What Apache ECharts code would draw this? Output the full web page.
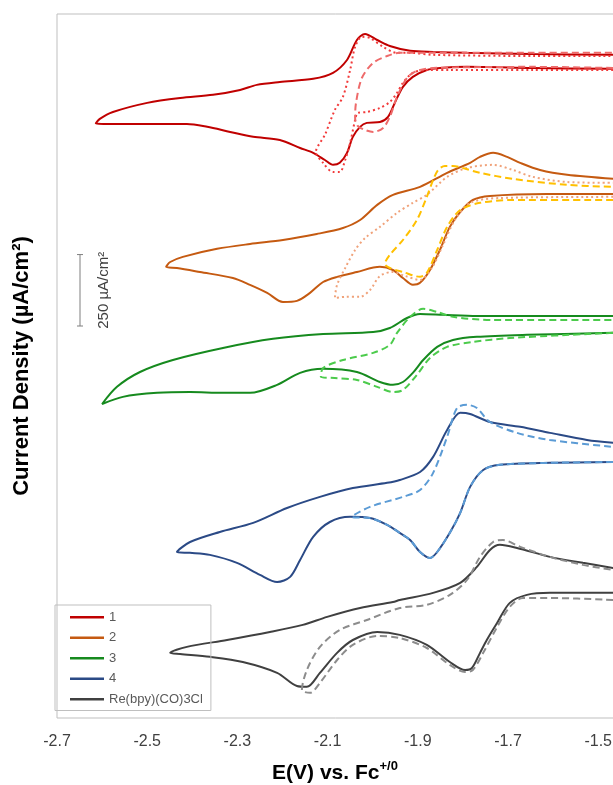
<!DOCTYPE html>
<html>
<head>
<meta charset="utf-8">
<title>CV comparison</title>
<script src="https://cdn.jsdelivr.net/npm/echarts@6/dist/echarts.min.js"></script>
<style>
  html, body { margin: 0; padding: 0; background: #fff; }
  #chart { width: 613px; height: 785px; }
</style>
</head>
<body>
<div id="chart"></div>
<script>
// potentials (V vs Fc+/0) and offset current densities (uA/cm2)
var legendNames = ['1', '2', '3', '4', 'Re(bpy)(CO)3Cl'];

var cv1 = [[-1.467,2272],[-1.645,2275],[-1.791,2279],[-1.851,2275],[-1.880,2268],[-1.911,2244],[-1.933,2209],[-1.951,2153],[-1.966,2104],[-1.984,2086],[-2.013,2083],[-2.028,2069],[-2.044,2034],[-2.057,1978],[-2.073,1943],[-2.088,1936],[-2.106,1953],[-2.132,1978],[-2.161,1995],[-2.206,2023],[-2.265,2034],[-2.316,2051],[-2.367,2069],[-2.412,2079],[-2.500,2079],[-2.582,2079],[-2.614,2081],[-2.605,2097],[-2.576,2121],[-2.500,2153],[-2.427,2170],[-2.354,2181],[-2.294,2198],[-2.257,2216],[-2.206,2226],[-2.132,2237],[-2.088,2258],[-2.057,2303],[-2.035,2373],[-2.017,2394],[-1.990,2373],[-1.962,2352],[-1.917,2335],[-1.866,2331],[-1.791,2328],[-1.645,2324],[-1.467,2321]];
var cv1Dotted = [[-1.467,2268],[-1.645,2268],[-1.829,2268],[-1.880,2268],[-1.911,2258],[-1.933,2223],[-1.946,2188],[-1.962,2156],[-1.984,2135],[-2.013,2121],[-2.033,2118],[-2.039,2093],[-2.050,2013],[-2.061,1953],[-2.073,1911],[-2.088,1911],[-2.110,1943],[-2.126,1981],[-2.106,2041],[-2.084,2128],[-2.066,2174],[-2.050,2268],[-2.039,2349],[-2.024,2384],[-2.006,2380],[-1.977,2349],[-1.946,2328],[-1.917,2328],[-1.866,2321],[-1.645,2317],[-1.467,2317]];
var cv1Dashed = [[-1.467,2275],[-1.645,2279],[-1.866,2275],[-1.902,2265],[-1.924,2240],[-1.946,2174],[-1.962,2104],[-1.977,2065],[-1.999,2051],[-2.017,2058],[-2.033,2072],[-2.039,2100],[-2.037,2153],[-2.024,2240],[-1.999,2293],[-1.968,2317],[-1.940,2328],[-1.873,2328],[-1.645,2328],[-1.467,2328]];

var cv2 = [[-1.467,1834],[-1.614,1834],[-1.740,1827],[-1.778,1813],[-1.806,1771],[-1.829,1719],[-1.851,1638],[-1.873,1568],[-1.895,1523],[-1.911,1516],[-1.933,1540],[-1.955,1568],[-1.984,1579],[-2.035,1561],[-2.079,1544],[-2.110,1526],[-2.139,1488],[-2.168,1460],[-2.199,1456],[-2.234,1488],[-2.272,1516],[-2.310,1540],[-2.383,1561],[-2.434,1575],[-2.458,1579],[-2.449,1596],[-2.421,1614],[-2.345,1642],[-2.272,1659],[-2.199,1673],[-2.124,1694],[-2.066,1715],[-2.028,1743],[-1.990,1796],[-1.955,1831],[-1.895,1859],[-1.835,1908],[-1.784,1943],[-1.762,1964],[-1.733,1978],[-1.702,1964],[-1.673,1943],[-1.629,1918],[-1.569,1901],[-1.467,1887]];
var cv2Dotted = [[-1.467,1824],[-1.718,1820],[-1.784,1803],[-1.818,1743],[-1.844,1656],[-1.869,1575],[-1.895,1533],[-1.928,1547],[-1.957,1561],[-1.984,1547],[-2.006,1498],[-2.028,1474],[-2.061,1474],[-2.084,1470],[-2.079,1516],[-2.061,1575],[-2.039,1638],[-2.017,1680],[-1.984,1719],[-1.946,1768],[-1.911,1803],[-1.880,1831],[-1.835,1894],[-1.791,1925],[-1.733,1936],[-1.689,1918],[-1.645,1894],[-1.569,1876],[-1.467,1873]];
var cv2Dashed = [[-1.467,1813],[-1.689,1813],[-1.762,1803],[-1.806,1778],[-1.835,1719],[-1.857,1638],[-1.880,1558],[-1.895,1544],[-1.933,1561],[-1.962,1575],[-1.973,1589],[-1.962,1621],[-1.933,1673],[-1.902,1743],[-1.880,1824],[-1.866,1883],[-1.855,1918],[-1.840,1932],[-1.822,1932],[-1.800,1925],[-1.762,1908],[-1.689,1887],[-1.569,1866],[-1.467,1859]];

var cv3 = [[-1.467,1348],[-1.658,1341],[-1.769,1334],[-1.822,1323],[-1.857,1299],[-1.888,1253],[-1.911,1208],[-1.933,1176],[-1.955,1166],[-1.984,1176],[-2.035,1211],[-2.110,1222],[-2.161,1208],[-2.212,1166],[-2.272,1138],[-2.332,1138],[-2.405,1141],[-2.478,1138],[-2.554,1124],[-2.600,1099],[-2.567,1159],[-2.516,1211],[-2.443,1253],[-2.332,1295],[-2.221,1327],[-2.110,1344],[-1.999,1351],[-1.962,1365],[-1.924,1400],[-1.895,1414],[-1.844,1411],[-1.769,1407],[-1.467,1407]];
var cv3Dashed = [[-1.467,1348],[-1.696,1330],[-1.778,1316],[-1.835,1299],[-1.873,1260],[-1.902,1201],[-1.933,1148],[-1.955,1141],[-1.990,1159],[-2.035,1183],[-2.084,1190],[-2.115,1194],[-2.110,1225],[-2.066,1253],[-1.999,1278],[-1.962,1306],[-1.946,1348],[-1.917,1404],[-1.888,1432],[-1.857,1421],[-1.822,1404],[-1.733,1393],[-1.467,1393]];

var cv4 = [[-1.467,896],[-1.607,893],[-1.718,886],[-1.755,868],[-1.784,809],[-1.806,718],[-1.829,648],[-1.857,581],[-1.873,560],[-1.895,581],[-1.917,623],[-1.940,648],[-1.968,676],[-2.006,700],[-2.050,704],[-2.095,686],[-2.132,634],[-2.161,553],[-2.183,494],[-2.212,476],[-2.250,501],[-2.301,543],[-2.361,571],[-2.405,578],[-2.434,581],[-2.405,616],[-2.339,651],[-2.265,683],[-2.190,735],[-2.117,774],[-2.044,805],[-1.968,823],[-1.940,833],[-1.895,861],[-1.866,914],[-1.835,1008],[-1.806,1068],[-1.784,1064],[-1.740,1036],[-1.673,1019],[-1.607,998],[-1.525,973],[-1.467,963]];
var cv4Dashed = [[-1.467,896],[-1.607,893],[-1.718,886],[-1.755,868],[-1.784,809],[-1.806,718],[-1.829,648],[-1.857,581],[-1.873,560],[-1.895,581],[-1.917,623],[-1.940,648],[-1.968,676],[-2.006,700],[-2.046,704],[-2.006,739],[-1.933,774],[-1.895,798],[-1.866,858],[-1.835,984],[-1.813,1085],[-1.791,1096],[-1.769,1085],[-1.740,1036],[-1.680,998],[-1.607,973],[-1.467,949]];

var cvRe = [[-1.467,438],[-1.607,438],[-1.658,431],[-1.696,403],[-1.724,333],[-1.747,273],[-1.762,228],[-1.780,175],[-1.795,168],[-1.829,196],[-1.880,256],[-1.940,291],[-1.990,301],[-2.044,273],[-2.079,228],[-2.117,158],[-2.146,109],[-2.168,112],[-2.212,158],[-2.288,196],[-2.361,214],[-2.427,224],[-2.449,228],[-2.412,249],[-2.323,273],[-2.228,301],[-2.155,326],[-2.101,354],[-2.028,385],[-1.955,406],[-1.940,413],[-1.866,438],[-1.806,473],[-1.769,529],[-1.740,588],[-1.718,606],[-1.680,595],[-1.607,564],[-1.534,543],[-1.467,525]];
var cvReDashed = [[-1.467,413],[-1.607,420],[-1.667,420],[-1.696,389],[-1.724,319],[-1.755,228],[-1.778,168],[-1.795,161],[-1.829,186],[-1.880,245],[-1.940,280],[-1.990,287],[-2.044,256],[-2.079,203],[-2.117,123],[-2.139,88],[-2.157,98],[-2.146,168],[-2.117,249],[-2.073,308],[-2.013,343],[-1.940,385],[-1.880,396],[-1.829,431],[-1.791,483],[-1.762,564],[-1.733,616],[-1.711,623],[-1.673,599],[-1.607,564],[-1.534,536],[-1.467,518]];

// 250 uA/cm2 scale bar: [potential, low, high]
var scaleBar = [[-2.649, 1372, 1622]];
var scaleBarLabel = '250 µA/cm²';

var chart = echarts.init(document.getElementById('chart'));

function cvSeries(name, data, color, kind) {
  var dash = kind === 'dotted' ? [2, 3] : (kind === 'dashed' ? [7, 4] : 'solid');
  return {
    name: name,
    type: 'line',
    data: data,
    symbol: 'none',
    smooth: 0.3,
    lineStyle: { color: color, width: 2, type: dash },
    itemStyle: { color: color }
  };
}

var option = {
  animation: false,
  grid: {
    left: 57, top: 14, width: 631.4, height: 704,
    outerBoundsMode: 'none', containLabel: false,
    show: true, borderColor: '#BFBFBF', borderWidth: 1
  },
  xAxis: {
    type: 'value', min: -2.7, max: -1.3, interval: 0.1,
    axisLine: { show: false }, axisTick: { show: false }, splitLine: { show: false },
    axisLabel: {
      fontFamily: 'Liberation Sans', fontSize: 16, color: '#404040', margin: 16,
      formatter: function (v) {
        return Math.abs(Math.round(v * 10)) % 2 === 1 ? v.toFixed(1) : '';
      }
    }
  },
  yAxis: {
    type: 'value', min: 0, max: 2464,
    name: 'Current Density (µA/cm²)', nameLocation: 'middle', nameGap: 24,
    nameTextStyle: { fontFamily: 'Liberation Sans', fontSize: 22, fontWeight: 'bold', color: '#000' },
    axisLine: { show: false }, axisTick: { show: false }, splitLine: { show: false },
    axisLabel: { show: false }
  },
  legend: {
    data: legendNames,
    orient: 'vertical', left: 55, top: 605,
    padding: [5, 8, 4, 15],
    icon: 'rect', itemWidth: 34, itemHeight: 2.5, itemGap: 6,
    borderColor: '#BFBFBF', borderWidth: 1,
    textStyle: { fontFamily: 'Liberation Sans', fontSize: 13, color: '#595959', lineHeight: 14.5 }
  },
  graphic: [{
    type: 'text', x: 335, y: 772,
    style: {
      text: '{a|E(V) vs. Fc}{s|+/0}', align: 'center', verticalAlign: 'middle',
      rich: {
        a: { fontFamily: 'Liberation Sans', fontSize: 21, fontWeight: 'bold', fill: '#000', lineHeight: 24, verticalAlign: 'bottom' },
        s: { fontFamily: 'Liberation Sans', fontSize: 13, fontWeight: 'bold', fill: '#000', lineHeight: 24, verticalAlign: 'top' }
      }
    }
  }],
  series: [
    cvSeries('1', cv1, '#C00000', 'solid'),
    cvSeries('1 dotted', cv1Dotted, '#F23A3A', 'dotted'),
    cvSeries('1 dashed', cv1Dashed, '#EE6A6A', 'dashed'),
    cvSeries('2', cv2, '#C55A11', 'solid'),
    cvSeries('2 dotted', cv2Dotted, '#F0A27A', 'dotted'),
    cvSeries('2 dashed', cv2Dashed, '#FFC000', 'dashed'),
    cvSeries('3', cv3, '#168A1E', 'solid'),
    cvSeries('3 dashed', cv3Dashed, '#4CCB4C', 'dashed'),
    cvSeries('4', cv4, '#2B4A86', 'solid'),
    cvSeries('4 dashed', cv4Dashed, '#5B9BD5', 'dashed'),
    cvSeries('Re(bpy)(CO)3Cl', cvRe, '#404040', 'solid'),
    cvSeries('Re dashed', cvReDashed, '#8C8C8C', 'dashed'),
    {
      name: 'scale', type: 'custom', data: scaleBar, silent: true,
      renderItem: function (params, api) {
        var lo = api.coord([api.value(0), api.value(1)]);
        var hi = api.coord([api.value(0), api.value(2)]);
        var st = { stroke: '#7F7F7F', lineWidth: 1 };
        return {
          type: 'group',
          children: [
            { type: 'line', shape: { x1: lo[0], y1: lo[1], x2: hi[0], y2: hi[1] }, style: st },
            { type: 'line', shape: { x1: lo[0] - 3, y1: lo[1], x2: lo[0] + 3, y2: lo[1] }, style: st },
            { type: 'line', shape: { x1: hi[0] - 3, y1: hi[1], x2: hi[0] + 3, y2: hi[1] }, style: st },
            {
              type: 'text', x: lo[0] + 24, y: (lo[1] + hi[1]) / 2, rotation: Math.PI / 2,
              style: { text: scaleBarLabel, align: 'center', verticalAlign: 'middle',
                       fontFamily: 'Liberation Sans', fontSize: 15, fill: '#404040' }
            }
          ]
        };
      }
    }
  ]
};

chart.setOption(option);
</script>
</body>
</html>
